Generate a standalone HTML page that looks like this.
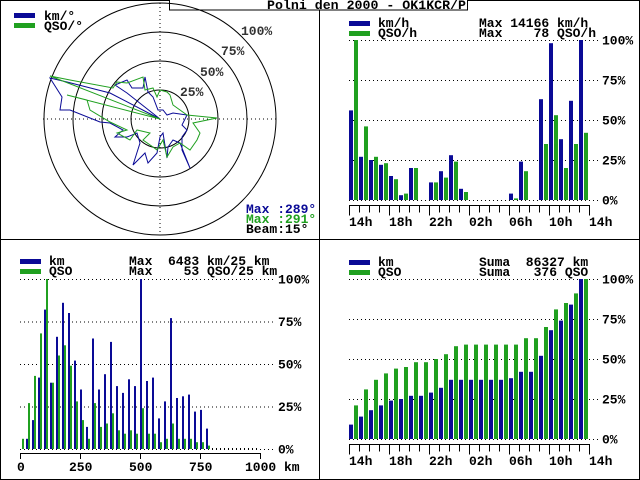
<!DOCTYPE html>
<html><head><meta charset="utf-8"><style>
html,body{margin:0;padding:0;background:#fff}
svg{display:block}
text{font-family:"Liberation Mono",monospace;font-weight:bold;font-size:13px}
</style></head><body>
<svg id="s" width="640" height="480" xmlns="http://www.w3.org/2000/svg">
<rect x="0.5" y="0.5" width="639" height="479" fill="#fff" stroke="#000"/>
<line x1="319.5" y1="0" x2="319.5" y2="480" stroke="#000"/>
<line x1="0" y1="239.5" x2="640" y2="239.5" stroke="#000"/>
<rect x="169.5" y="-1" width="298" height="11" fill="#fff" stroke="#000"/>
<text x="267" y="9" textLength="199" lengthAdjust="spacingAndGlyphs">Polni den 2000 - OK1KCR/P</text>
<g id="polar" fill="none">
<circle cx="160" cy="119" r="116" stroke="#000"/>
<circle cx="160" cy="119" r="87" stroke="#000"/>
<circle cx="160" cy="119" r="58" stroke="#000"/>
<circle cx="160" cy="119" r="29" stroke="#000"/>
<line x1="43" y1="119" x2="277" y2="119" stroke="#000" stroke-dasharray="1,3"/>
<line x1="160" y1="3" x2="160" y2="235" stroke="#000" stroke-dasharray="1,3"/>
<polygon stroke="#0a0a96" points="160,119 127,93 115,85 127,80 132,88 143,88 145,77 148,92 153,97 158,110 163,110 167,115 173,113 187,115 182,125 187,130 182,137 182,150 190,168 180,143 173,140 168,147 167,158 163,133 160,137 157,153 148,163 145,153 133,165 140,143 137,133 127,137 115,137 123,130 110,123 100,122 70,110 60,110 62,97 50,78 67,82 110,93"/>
<polygon stroke="#20a020" points="160,119 50,76 70,80 113,88 117,82 127,83 143,77 145,90 153,88 157,97 160,90 167,92 170,95 173,105 187,115 217,118 193,123 200,133 197,140 190,150 180,143 173,147 167,157 163,140 157,150 153,147 143,140 150,133 137,130 130,140 117,133 127,130 110,122 90,110 87,100 67,95"/>
</g>
<g fill="#333"><text x="241" y="35">100%</text><text x="221" y="55">75%</text><text x="200" y="76">50%</text><text x="180" y="96">25%</text></g>
<rect x="14" y="13" width="21" height="5" fill="#0a0a96"/><rect x="14" y="23" width="21" height="5" fill="#20a020"/>
<text x="44" y="20">km/°</text><text x="44" y="30">QSO/°</text>
<text x="246" y="213" fill="#0a0a96">Max :289°</text>
<text x="246" y="223" fill="#20a020">Max :291°</text>
<text x="246" y="233">Beam:15°</text>
<g id="g"></g>
</svg>
<script>
var g=document.getElementById('g'),h='';
var B='#0a0a96',G='#20a020';
function r(x,y,w,hh,c){if(hh<=0)return;h+='<rect x="'+x+'" y="'+y+'" width="'+w+'" height="'+hh+'" fill="'+c+'"/>';}
function t(x,y,s,a){h+='<text x="'+x+'" y="'+y+'" xml:space="preserve"'+(a?' text-anchor="'+a+'"':'')+'>'+s+'</text>';}
function ln(x1,y1,x2,y2,d){h+='<line x1="'+x1+'" y1="'+y1+'" x2="'+x2+'" y2="'+y2+'" stroke="#000"'+(d?' stroke-dasharray="1,3"':'')+'/>';}
function hourPanel(top,bot,bv,gv,l1,l2,r1,r2){
 var H=bot-top;
 for(var i=0;i<=4;i++){var y=bot-H*i/4+0.5;ln(349,y,598,y,1);t(602,y+4,(i*25)+'%');}
 for(var k=0;k<24;k++){var x=349+10*k;
  r(x,bot-H*bv[k]/100,4,H*bv[k]/100,B);r(x+5,bot-H*gv[k]/100,4,H*gv[k]/100,G);}
 var ay=bot+5.5;ln(349,ay,590,ay);
 for(var k=0;k<=24;k++){var x=349.5+10*k;ln(x,ay,x,ay+(k%4==0?10:7));}
 var L=['14h','18h','22h','02h','06h','10h','14h'];
 for(var i=0;i<7;i++)t(349+40*i,bot+26,L[i]);
 r(349,top-19,21,5,B);r(349,top-9,21,5,G);
 t(378,top-13,l1);t(378,top-3,l2);t(479,top-13,r1);t(479,top-3,r2);
}
hourPanel(40,200,[56,27,25,22,15,3,20,0,11,18,28,7,0,0,0,0,4,24,0,63,98,38,62,100],
 [100,46,27,23,13,4,20,0,11,14,24,5,0,0,0,0,1,18,0,35,53,20,35,42],
 'km/h','QSO/h','Max 14166 km/h','Max    78 QSO/h');
hourPanel(279,439,[9,14,18,21,24,25,27,27,29,32,37,37,37,37,37,37,38,42,42,52,68,74,84,100],
 [21,31,37,41,44,45,48,48,50,53,58,59,59,59,59,59,59,63,63,70,81,85,91,100],
 'km','QSO','Suma  86327 km','Suma   376 QSO');
var top=279,bot=449,H=170;
for(var i=0;i<=4;i++){var y=bot-H*i/4+0.5;ln(20,y,276,y,1);t(278,y+4,(i*25)+'%');}
var bv=[6,17,42,82,39,66,86,80,52,35,13,65,35,44,63,37,33,41,37,100,40,42,18,28,77,30,31,32,22,23,12];
var gv=[6,27,43,68,100,39,55,61,49,28,17,6,27,13,15,21,11,9,11,9,24,9,9,4,6,15,6,6,6,4,4,2];
for(var k=0;k<40;k++){var b=bv[k]||0,q=gv[k]||0;
 r(22+6*k,bot-H*q/100,2,H*q/100,G);r(26+6*k,bot-H*b/100,2,H*b/100,B);}
ln(212,bot-0.5,260,bot-0.5,1);
ln(20,453.5,260,453.5);
for(var i=0;i<=4;i++){var x=20.5+60*i;ln(x,453,x,459);}
t(17,471,'0');t(69,471,'250');t(129,471,'500');t(189,471,'750');t(245,471,'1000 km');
r(20,259,21,5,B);r(20,269,21,5,G);
t(49,265,'km');t(49,275,'QSO');
t(129,265,'Max  6483 km/25 km');
t(129,275,'Max    53 QSO/25 km');
g.innerHTML=h;
</script>
</body></html>
